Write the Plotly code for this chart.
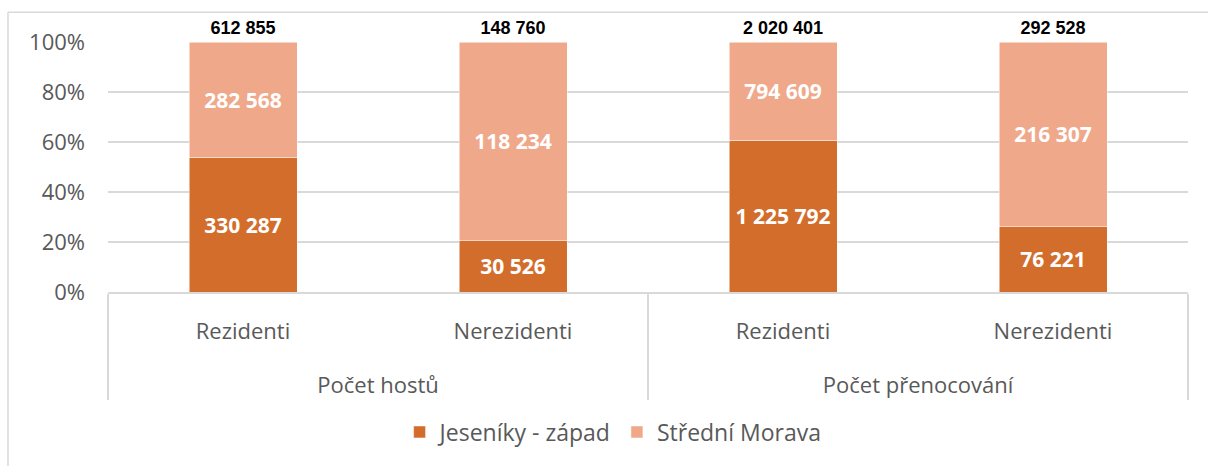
import plotly.graph_objects as go

GROUPS = ["Počet hostů", "Počet hostů", "Počet přenocování", "Počet přenocování"]
TYPES = ["Rezidenti", "Nerezidenti", "Rezidenti", "Nerezidenti"]
JESENIKY = [330287, 30526, 1225792, 76221]
MORAVA = [282568, 118234, 794609, 216307]
TOTALS = [612855, 148760, 2020401, 292528]

DARK = "#D36D2B"
LIGHT = "#F0A88A"
GRID = "#D9D9D9"
TEXT = "#595959"
FONT = "Open Sans"


def fmt(v):
    return f"{v:,}".replace(",", " ")


def lab(s):
    return f"<span style='font-size:22px'>{s}</span>"


# the blank first line (sized by the 27px tick font) pushes the group row down
x = [["<br>" + lab(g) for g in GROUPS], [lab(t) for t in TYPES]]

fig = go.Figure()
for name, vals, color in [("Jeseníky - západ", JESENIKY, DARK), ("Střední Morava", MORAVA, LIGHT)]:
    fig.add_trace(
        go.Bar(
            x=x, y=vals, name=name, marker=dict(color=color, line=dict(color="white", width=0.5)),
            text=[fmt(v) for v in vals], textposition="inside", insidetextanchor="middle",
            textangle=0, textfont=dict(color="white", size=21, family=FONT, weight="bold"),
            hoverinfo="name+y",
        )
    )

# totals above each column
fig.add_trace(
    go.Scatter(
        x=x, y=[100] * len(TOTALS), mode="markers+text", text=[fmt(v) for v in TOTALS],
        marker=dict(size=4, opacity=0),
        textposition="top center", textfont=dict(color="black", size=18, family="Arial", weight="bold"),
        showlegend=False, cliponaxis=False, hoverinfo="skip",
    )
)

fig.update_layout(
    barmode="stack",
    barnorm="percent",
    bargap=0.6,
    width=1208,
    height=466,
    plot_bgcolor="white",
    paper_bgcolor="white",
    font=dict(family=FONT, color=TEXT, size=22),
    margin=dict(l=108, r=20, t=42, b=171),
    uniformtext=dict(minsize=21, mode="show"),
    legend=dict(
        orientation="h", x=0.27, xanchor="left", y=-0.56, yanchor="middle",
        font=dict(size=23, color=TEXT), traceorder="normal",
    ),
    xaxis=dict(
        type="multicategory", showline=True, linecolor=GRID, linewidth=1.5,
        showdividers=True, dividercolor=GRID, dividerwidth=1.5,
        tickfont=dict(size=27, color=TEXT), ticks="", ticklabelstandoff=13,
    ),
    yaxis=dict(
        range=[0, 100], dtick=20, ticksuffix="%", showgrid=True, gridcolor=GRID,
        gridwidth=1.5, zeroline=False, tickfont=dict(size=22, color=TEXT),
        ticklabelstandoff=22,
    ),
    shapes=[
        dict(type="line", xref="paper", yref="paper", x0=-0.0926, x1=1.05, y0=1.1186, y1=1.1186,
             line=dict(color=GRID, width=1.5)),
        dict(type="line", xref="paper", yref="paper", x0=-0.0926, x1=-0.0926, y0=1.1186, y1=-0.7,
             line=dict(color=GRID, width=1.5)),
    ],
)

fig.write_html("out.html", config={"displayModeBar": False},
               post_script="document.body.style.margin='0';")
